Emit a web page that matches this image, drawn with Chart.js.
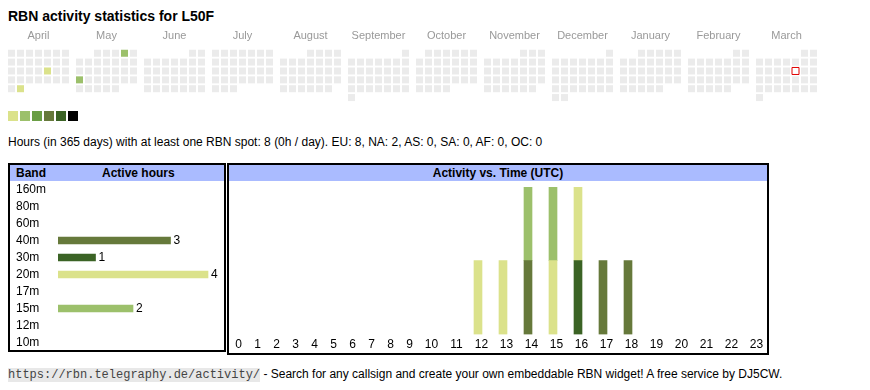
<!DOCTYPE html>
<html>
<head>
<meta charset="utf-8">
<script src="https://cdn.jsdelivr.net/npm/chart.js@4.4.1/dist/chart.umd.min.js"></script>
<style>
  body { margin: 0; background: #fff; font-family: "Liberation Sans", Arial, sans-serif; font-size: 12px; color: #000; }
  .abs { position: absolute; }
  #title { left: 8px; top: 8px; font-size: 14px; font-weight: bold; }
  #levels { left: 8px; top: 111px; height: 10px; }
  #levels span { display: inline-block; width: 10px; height: 10px; margin-right: 2px; vertical-align: top; }
  #summary { left: 8px; top: 135px; white-space: nowrap; }
  .box { position: absolute; border: 2px solid #000; box-sizing: border-box; }
  .head { position: absolute; left: 0; right: 0; top: 0; height: 16px; line-height: 16px; background: #aabbff; font-weight: bold; }
  #footer { left: 8px; top: 367px; white-space: nowrap; }
  #footer code { font-family: "Liberation Mono", monospace; font-size: 12px; background: #e8e8e8; color: #444; }
  canvas { position: absolute; }
</style>
</head>
<body>
<div id="title" class="abs">RBN activity statistics for L50F</div>
<canvas id="calChart" width="830" height="80" style="left:0;top:23px"></canvas>
<div id="levels" class="abs"></div>
<div id="summary" class="abs">Hours (in 365 days) with at least one RBN spot: 8 (0h / day). EU: 8, NA: 2, AS: 0, SA: 0, AF: 0, OC: 0</div>

<div class="box" style="left:8px;top:163px;width:218px;height:189px">
  <div class="head"><span style="position:absolute;left:6px">Band</span><span style="position:absolute;left:92px">Active hours</span></div>
</div>
<canvas id="bandChart" width="208" height="170" style="left:16px;top:181px"></canvas>

<div class="box" style="left:227px;top:163px;width:542px;height:192px">
  <div class="head" style="text-align:center">Activity vs. Time (UTC)</div>
</div>
<canvas id="timeChart" width="538" height="167" style="left:229px;top:187px"></canvas>

<div id="footer" class="abs"><code>https://rbn.telegraphy.de/activity/</code> - Search for any callsign and create your own embeddable RBN widget! A free service by DJ5CW.</div>

<script>
// calendar: April 2024 .. March 2025
const MONTHS = ['April', 'May', 'June', 'July', 'August', 'September', 'October', 'November', 'December', 'January', 'February', 'March'];
const START_YEAR = 2024;
const START_MONTH = 3; // April
const ACTIVE_DAYS = ['2024-04-19', '2024-04-30', '2024-05-04', '2024-05-20'];
const ACTIVE_DAY_HOURS = [1, 1, 3, 3];
const TODAY = '2025-03-14';

// band table
const BANDS = ['160m', '80m', '60m', '40m', '30m', '20m', '17m', '15m', '12m', '10m'];
const BAND_HOURS = [0, 0, 0, 3, 1, 4, 0, 2, 0, 0];

// activity per UTC hour, per band
const HOURS = [0, 1, 2, 3, 4, 5, 6, 7, 8, 9, 10, 11, 12, 13, 14, 15, 16, 17, 18, 19, 20, 21, 22, 23];
const ACT_40M = [0, 0, 0, 0, 0, 0, 0, 0, 0, 0, 0, 0, 0, 0, 1, 0, 0, 1, 1, 0, 0, 0, 0, 0];
const ACT_30M = [0, 0, 0, 0, 0, 0, 0, 0, 0, 0, 0, 0, 0, 0, 0, 0, 1, 0, 0, 0, 0, 0, 0, 0];
const ACT_20M = [0, 0, 0, 0, 0, 0, 0, 0, 0, 0, 0, 0, 1, 1, 0, 1, 1, 0, 0, 0, 0, 0, 0, 0];
const ACT_15M = [0, 0, 0, 0, 0, 0, 0, 0, 0, 0, 0, 0, 0, 0, 1, 1, 0, 0, 0, 0, 0, 0, 0, 0];

const LEVEL_COLORS = ['#dbe28b', '#9cc06b', '#6a9e45', '#66793b', '#3b6325', '#000000'];
const EMPTY_COLOR = '#ebebeb';
const BAND_COLORS = { '40m': '#66793b', '30m': '#3b6325', '20m': '#dbe28b', '15m': '#9cc06b' };

Chart.defaults.font.family = '"Liberation Sans", Arial, sans-serif';
Chart.defaults.font.size = 12;
Chart.defaults.color = '#000';

const noPlugins = { legend: { display: false }, tooltip: { enabled: false } };
// keep chart areas exactly where the canvas says
const noPad = s => { s.paddingTop = 0; s.paddingBottom = 0; s.paddingLeft = 0; s.paddingRight = 0; };

// level legend squares
document.getElementById('levels').innerHTML = LEVEL_COLORS.map(c => `<span style="background:${c}"></span>`).join('');

// ---- calendar ----
const CELL = 9;            // px per cell step
const MONTH_SPAN = 68 / CELL;
const pad2 = n => String(n).padStart(2, '0');
const levelColor = h => LEVEL_COLORS[Math.min(Math.ceil(h / 2), LEVEL_COLORS.length) - 1];

const cells = [];
const todayCell = [];
MONTHS.forEach((name, m) => {
  const year = START_YEAR + Math.floor((START_MONTH + m) / 12);
  const month = (START_MONTH + m) % 12;
  const days = new Date(Date.UTC(year, month + 1, 0)).getUTCDate();
  const first = (new Date(Date.UTC(year, month, 1)).getUTCDay() + 6) % 7;
  for (let d = 1; d <= days; d++) {
    const key = `${year}-${pad2(month + 1)}-${pad2(d)}`;
    const p = { x: m * MONTH_SPAN + (first + d - 1) % 7, y: Math.floor((first + d - 1) / 7) };
    const idx = ACTIVE_DAYS.indexOf(key);
    p.color = idx >= 0 ? levelColor(ACTIVE_DAY_HOURS[idx]) : EMPTY_COLOR;
    if (key === TODAY) todayCell.push(p); else cells.push(p);
  }
});

const calXMin = -11.5 / CELL;
const calYMin = -3.5 / CELL;
const R = 7 / Math.SQRT2;
new Chart(document.getElementById('calChart'), {
  type: 'scatter',
  data: {
    datasets: [
      { data: cells, pointStyle: 'rect', pointRadius: R, pointHoverRadius: R,
        borderWidth: 0, backgroundColor: ctx => ctx.raw ? ctx.raw.color : EMPTY_COLOR },
      { data: todayCell, pointStyle: 'rect', pointRadius: R, pointHoverRadius: R,
        borderWidth: 1, borderColor: '#e00000', backgroundColor: '#fff' }
    ]
  },
  options: {
    responsive: false, animation: false, events: [],
    layout: { padding: 0, autoPadding: false },
    clip: false,
    plugins: noPlugins,
    scales: {
      x: {
        position: 'top', min: calXMin, max: calXMin + 830 / CELL,
        grid: { display: false, drawTicks: false }, border: { display: false },
        afterBuildTicks: s => { s.ticks = MONTHS.map((_, m) => ({ value: m * MONTH_SPAN + 3 })); },
        afterFit: noPad,
        ticks: { autoSkip: false, maxRotation: 0, minRotation: 0, padding: 6.8, color: '#999', font: { size: 11 },
                 callback: (v, i) => MONTHS[i] }
      },
      y: { display: false, reverse: true, min: calYMin, max: calYMin + 54 / CELL }
    }
  }
});

// ---- band table ----
const valueLabels = {
  id: 'valueLabels',
  afterDatasetsDraw(chart) {
    const ctx = chart.ctx;
    ctx.save();
    ctx.font = '12px "Liberation Sans", Arial, sans-serif';
    ctx.fillStyle = '#000';
    ctx.textBaseline = 'middle';
    chart.getDatasetMeta(0).data.forEach((bar, i) => {
      const v = BAND_HOURS[i];
      if (v) ctx.fillText(String(v), bar.x + 3, bar.y + 0.5);
    });
    ctx.restore();
  }
};

const BAND_LABEL_W = 42;
const PX_PER_HOUR = 37.5;
new Chart(document.getElementById('bandChart'), {
  type: 'bar',
  data: {
    labels: BANDS,
    datasets: [{ data: BAND_HOURS.map(v => v || null), backgroundColor: BANDS.map(b => BAND_COLORS[b] || '#ccc'), barThickness: 7 }]
  },
  options: {
    indexAxis: 'y', responsive: false, animation: false, events: [],
    layout: { padding: 0, autoPadding: false },
    plugins: noPlugins,
    scales: {
      x: { display: false, min: 0, max: (208 - BAND_LABEL_W) / PX_PER_HOUR },
      y: {
        grid: { display: false, drawTicks: false }, border: { display: false },
        ticks: { autoSkip: false, crossAlign: 'far', padding: 0, color: '#000' },
        afterFit: s => { s.width = BAND_LABEL_W; noPad(s); }
      }
    }
  },
  plugins: [valueLabels]
});

// ---- activity vs time ----
const COL_PAD = 13, DIGIT_W = 6, BAR_INSET = 9;
const colWidth = h => COL_PAD + DIGIT_W * String(h).length;
const colLeft = HOURS.map((h, i) => HOURS.slice(0, i).reduce((s, k) => s + colWidth(k), 0));

const hourSeries = [['40m', ACT_40M], ['30m', ACT_30M], ['20m', ACT_20M], ['15m', ACT_15M]];
new Chart(document.getElementById('timeChart'), {
  type: 'bar',
  data: {
    datasets: hourSeries.map(([band, arr]) => ({
      label: band,
      data: HOURS.map((h, i) => ({ x: colLeft[i] + BAR_INSET, y: arr[i] })).filter(p => p.y > 0),
      backgroundColor: BAND_COLORS[band],
      barThickness: 8
    }))
  },
  options: {
    responsive: false, animation: false, events: [],
    layout: { padding: 0, autoPadding: false },
    plugins: noPlugins,
    scales: {
      x: {
        type: 'linear', stacked: true, offset: false, min: 0, max: 538,
        grid: { display: false, drawTicks: false, offset: false }, border: { display: false },
        afterBuildTicks: s => { s.ticks = HOURS.map((h, i) => ({ value: colLeft[i] + colWidth(h) / 2 })); },
        afterFit: noPad,
        ticks: { autoSkip: false, maxRotation: 0, minRotation: 0, padding: 2.6, color: '#000',
                 callback: (v, i) => String(HOURS[i]) }
      },
      y: { display: false, stacked: true, min: 0, max: 2 }
    }
  }
});
</script>
</body>
</html>
